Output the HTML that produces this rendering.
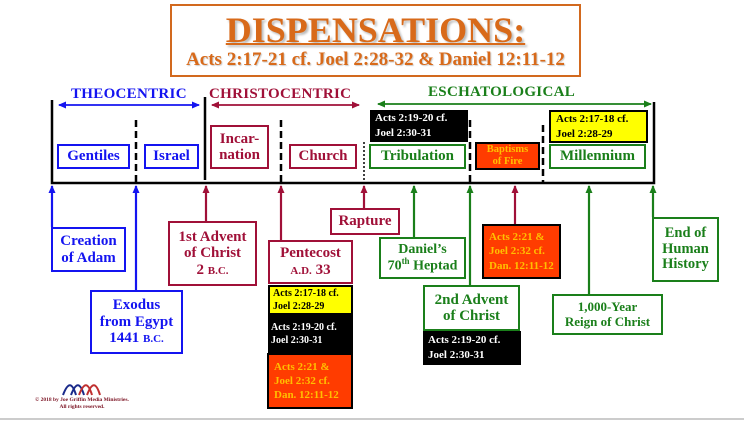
<!DOCTYPE html>
<html><head><meta charset="utf-8"><style>
body{margin:0;width:744px;height:421px;background:#fff;position:relative;overflow:hidden;font-family:"Liberation Serif",serif;font-weight:bold}
.b{position:absolute;box-sizing:border-box;display:flex;flex-direction:column;align-items:center;justify-content:center;text-align:center;line-height:1.1}
.bl{border:2.5px solid #1414f0;color:#1414f0;background:#fff}
.cr{border:2.5px solid #a01038;color:#a01038;background:#fff}
.gr{border:2.5px solid #1a7f1a;color:#1a7f1a;background:#fff}
.blk{background:#000;color:#fff;font-size:11px;align-items:flex-start;padding-left:5px;text-align:left;line-height:1.35}
.yel{background:#ffff00;color:#000;border:2.5px solid #000;font-size:11px;align-items:flex-start;padding-left:5px;text-align:left;line-height:1.35}
.org{background:#ff3c00;color:#ffc000;border:2.5px solid #000;font-size:11.5px;align-items:flex-start;padding-left:5px;text-align:left;line-height:1.3}
.lbl{position:absolute;font-size:15px;letter-spacing:0.3px}
sc{font-size:11px}
</style></head><body>
<div class="b" style="left:170px;top:4px;width:411px;height:73px;border:2.5px solid #d2691e;color:#d86a1a;justify-content:flex-start;padding-top:6px">
<div style="font-size:36px;text-decoration:underline;text-decoration-thickness:2px;line-height:36px;text-shadow:2px 2px 2px #bbb">DISPENSATIONS:</div>
<div style="font-size:19px;margin-top:2px;text-shadow:1px 1px 1px #ccc">Acts 2:17-21 cf. Joel 2:28-32 &amp; Daniel 12:11-12</div>
</div>
<svg width="744" height="421" style="position:absolute;left:0;top:0">
<defs>
<marker id="ab" markerUnits="userSpaceOnUse" markerWidth="8" markerHeight="7" refX="7" refY="3.5" orient="auto"><path d="M0,0L8,3.5L0,7z" fill="#1414f0"/></marker>
<marker id="ac" markerUnits="userSpaceOnUse" markerWidth="8" markerHeight="7" refX="7" refY="3.5" orient="auto"><path d="M0,0L8,3.5L0,7z" fill="#a01038"/></marker>
<marker id="ag" markerUnits="userSpaceOnUse" markerWidth="8" markerHeight="7" refX="7" refY="3.5" orient="auto"><path d="M0,0L8,3.5L0,7z" fill="#1a7f1a"/></marker>
<marker id="sb" markerUnits="userSpaceOnUse" markerWidth="8" markerHeight="7" refX="1" refY="3.5" orient="auto"><path d="M8,0L0,3.5L8,7z" fill="#1414f0"/></marker>
<marker id="sc" markerUnits="userSpaceOnUse" markerWidth="8" markerHeight="7" refX="1" refY="3.5" orient="auto"><path d="M8,0L0,3.5L8,7z" fill="#a01038"/></marker>
<marker id="sg" markerUnits="userSpaceOnUse" markerWidth="8" markerHeight="7" refX="1" refY="3.5" orient="auto"><path d="M8,0L0,3.5L8,7z" fill="#1a7f1a"/></marker>
</defs>
<g stroke="#000" stroke-width="2.5" fill="none">
<path d="M52,100V183H654V102"/>
<path d="M205,97V180"/>
<path d="M136,120V183M281,120V183M470,120V183M543,125V183" stroke-dasharray="7,4"/>
<path d="M364,142V183" stroke-width="1.5" stroke-dasharray="2,2"/>
</g>
<g stroke-width="1.8" fill="none">
<path d="M59,105H199" stroke="#1414f0" marker-start="url(#sb)" marker-end="url(#ab)"/>
<path d="M212,105H359" stroke="#a01038" marker-start="url(#sc)" marker-end="url(#ac)"/>
<path d="M378,104H651" stroke="#1a7f1a" marker-start="url(#sg)" marker-end="url(#ag)"/>
<path d="M52,227V186" stroke="#1414f0" stroke-width="2.2" marker-end="url(#ab)"/>
<path d="M136,290V186" stroke="#1414f0" stroke-width="2.2" marker-end="url(#ab)"/>
<path d="M206,221V186" stroke="#a01038" stroke-width="2.2" marker-end="url(#ac)"/>
<path d="M281,240V186" stroke="#a01038" stroke-width="2.2" marker-end="url(#ac)"/>
<path d="M364,208V186" stroke="#a01038" stroke-width="2.2" marker-end="url(#ac)"/>
<path d="M414,237V186" stroke="#1a7f1a" stroke-width="2.2" marker-end="url(#ag)"/>
<path d="M470,285V186" stroke="#1a7f1a" stroke-width="2.2" marker-end="url(#ag)"/>
<path d="M515,224V186" stroke="#a01038" stroke-width="2.2" marker-end="url(#ac)"/>
<path d="M589,294V186" stroke="#1a7f1a" stroke-width="2.2" marker-end="url(#ag)"/>
<path d="M653,217V186" stroke="#1a7f1a" stroke-width="2.2" marker-end="url(#ag)"/>
</g>
<path d="M0,419H744" stroke="#ccc" stroke-width="2"/>
<g fill="none" stroke-width="2">
<path d="M63,395C68,382 72,382 76,395" stroke="#1a2a8a"/>
<path d="M71,395C76,382 80,382 84,395" stroke="#1a2a8a"/>
<path d="M79,395C84,382 88,382 92,395" stroke="#c03030"/>
<path d="M87,395C92,382 96,382 100,395" stroke="#c03030"/>
</g>
</svg>
<div class="lbl" style="left:71px;top:86px;color:#1414f0">THEOCENTRIC</div>
<div class="lbl" style="left:209px;top:86px;color:#a01038">CHRISTOCENTRIC</div>
<div class="lbl" style="left:428px;top:84px;color:#1a7f1a">ESCHATOLOGICAL</div>

<div class="b bl" style="left:57px;top:144px;width:73px;height:25px;font-size:15px">Gentiles</div>
<div class="b bl" style="left:144px;top:144px;width:55px;height:25px;font-size:15px">Israel</div>
<div class="b cr" style="left:210px;top:125px;width:59px;height:44px;font-size:15px">Incar-<br>nation</div>
<div class="b cr" style="left:289px;top:144px;width:68px;height:25px;font-size:15px">Church</div>
<div class="b blk" style="left:370px;top:110px;width:98px;height:32px">Acts 2:19-20 cf.<br>Joel 2:30-31</div>
<div class="b gr" style="left:369px;top:144px;width:97px;height:25px;font-size:15px">Tribulation</div>
<div class="b org" style="left:475px;top:142px;width:65px;height:28px;align-items:center;padding:0;text-align:center;font-size:10.5px;line-height:1.15">Baptisms<br>of Fire</div>
<div class="b yel" style="left:549px;top:110px;width:99px;height:33px">Acts 2:17-18 cf.<br>Joel 2:28-29</div>
<div class="b gr" style="left:549px;top:144px;width:97px;height:25px;font-size:15px">Millennium</div>

<div class="b bl" style="left:51px;top:227px;width:75px;height:45px;font-size:15px">Creation<br>of Adam</div>
<div class="b bl" style="left:90px;top:290px;width:93px;height:64px;font-size:15px">Exodus<br>from Egypt<br><span>1441 <sc>B.C.</sc></span></div>
<div class="b cr" style="left:168px;top:221px;width:89px;height:65px;font-size:15px">1st Advent<br>of Christ<br><span>2 <sc>B.C.</sc></span></div>
<div class="b cr" style="left:268px;top:240px;width:85px;height:44px;font-size:15px;line-height:1.15">Pentecost<br><span><sc>A.D.</sc> 33</span></div>
<div class="b yel" style="left:268px;top:285px;width:85px;height:30px;font-size:10px;padding-left:3px">Acts 2:17-18 cf.<br>Joel 2:28-29</div>
<div class="b blk" style="left:268px;top:315px;width:85px;height:38px;font-size:10px;padding-left:3px">Acts 2:19-20 cf.<br>Joel 2:30-31</div>
<div class="b org" style="left:267px;top:353px;width:86px;height:56px;font-size:11px">Acts 2:21 &amp;<br>Joel 2:32 cf.<br>Dan. 12:11-12</div>
<div class="b cr" style="left:330px;top:208px;width:70px;height:27px;font-size:15px">Rapture</div>
<div class="b gr" style="left:379px;top:237px;width:87px;height:42px;font-size:14px">Daniel’s<br><span>70<sup style="font-size:9px">th</sup> Heptad</span></div>
<div class="b org" style="left:482px;top:224px;width:79px;height:55px;font-size:11px">Acts 2:21 &amp;<br>Joel 2:32 cf.<br>Dan. 12:11-12</div>
<div class="b gr" style="left:423px;top:285px;width:97px;height:46px;font-size:15px">2nd Advent<br>of Christ</div>
<div class="b blk" style="left:423px;top:331px;width:98px;height:34px">Acts 2:19-20 cf.<br>Joel 2:30-31</div>
<div class="b gr" style="left:552px;top:294px;width:111px;height:41px;font-size:13px">1,000-Year<br>Reign of Christ</div>
<div class="b gr" style="left:652px;top:217px;width:67px;height:65px;font-size:14.5px">End of<br>Human<br>History</div>
<div style="position:absolute;left:24px;top:397px;width:116px;text-align:center;font-size:5.5px;color:#7a1020;line-height:1.35">© 2018 by Joe Griffin Media Ministries.<br>All rights reserved.</div>
</body></html>
